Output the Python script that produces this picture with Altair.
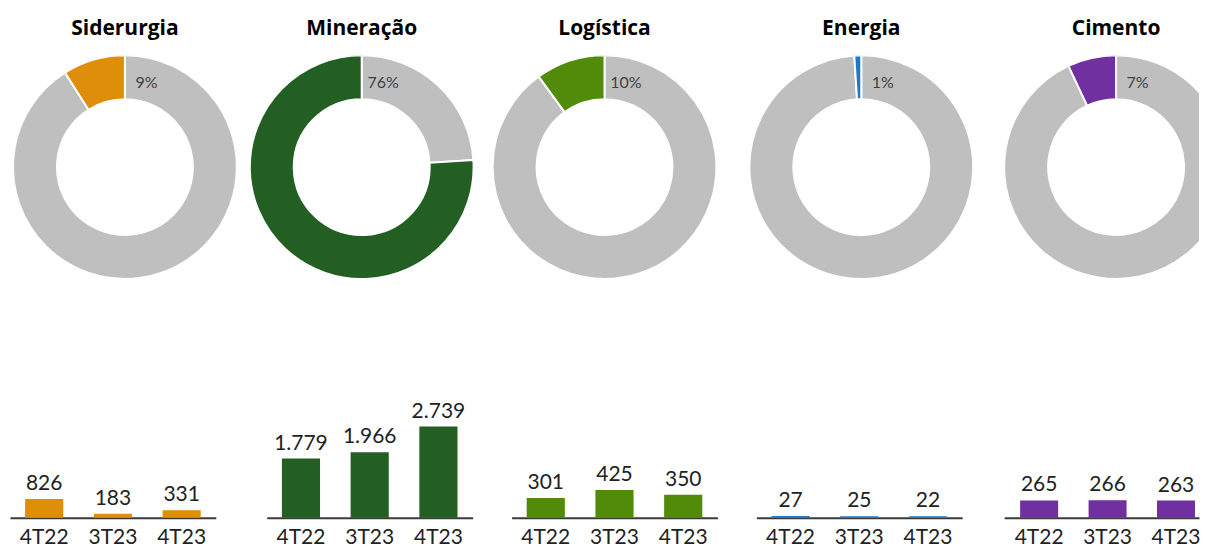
import altair as alt
import pandas as pd

sectors = ["Siderurgia", "Mineração", "Logística", "Energia", "Cimento"]
shares = [9, 76, 10, 1, 7]
colors = ["#DF8E0A", "#235F22", "#528A0A", "#1F78C8", "#7030A0"]
periods = ["4T22", "3T23", "4T23"]
siderurgia = [826, 183, 331]
mineracao = [1779, 1966, 2739]
logistica = [301, 425, 350]
energia = [27, 25, 22]
cimento = [265, 266, 263]
series = [siderurgia, mineracao, logistica, energia, cimento]
y_max = [5700, 3900, 1980, 1980, 1980]

GRAY = "#BFBFBF"
FONT = "Lato"
TITLE_FONT = "Open Sans"

donut_w = [230, 244, 242, 272, 202]
donut_shift = [0, 0, 0, 0, 18]
bar_w = [206, 206, 206, 206, 195]
bar_pad_outer = [0.22, 0.22, 0.22, 0.22, 0.146]
bar_align = [0.5, 0.5, 0.5, 0.5, 0.8]

color_scale = alt.Scale(domain=["resto"] + sectors, range=[GRAY] + colors)


def donut(i):
    df = pd.DataFrame({
        "part": ["resto", sectors[i]],
        "value": [100 - shares[i], shares[i]],
        "ord": [0, 1],
    })
    arc = alt.Chart(df).mark_arc(
        radius=112, innerRadius=68, stroke="white", strokeWidth=2,
        xOffset=donut_shift[i], clip=True,
    ).encode(
        theta=alt.Theta("value:Q", stack=True),
        order=alt.Order("ord:Q"),
        color=alt.Color("part:N", scale=color_scale, legend=None),
    )
    lbl = alt.Chart(pd.DataFrame({"t": [f"{shares[i]}%"]})).mark_text(
        radius=87, theta=0.25, font=FONT, fontSize=16, color="#404040",
        xOffset=donut_shift[i],
    ).encode(text="t:N")
    return alt.layer(arc, lbl).properties(
        width=donut_w[i], height=224,
        title=alt.TitleParams(sectors[i], fontSize=21, font=TITLE_FONT, fontWeight="bold",
                              color="black", offset=16, dx=donut_shift[i]),
    )


def bars(i):
    df = pd.DataFrame({"periodo": periods, "valor": series[i]})
    base = alt.Chart(df).transform_calculate(
        rotulo="replace(format(datum.valor, ','), ',', '.')"
    ).encode(
        x=alt.X("periodo:N", sort=periods,
                scale=alt.Scale(paddingInner=0.445, paddingOuter=bar_pad_outer[i],
                                align=bar_align[i]),
                axis=alt.Axis(title=None, labelAngle=0, ticks=False, domainColor="#3A3A3A",
                              domainWidth=2, labelFont=FONT, labelFontSize=21,
                              labelColor="#222222", labelPadding=9)),
        y=alt.Y("valor:Q", scale=alt.Scale(domain=[0, y_max[i]]), axis=None),
    )
    b = base.mark_bar(color=colors[i])
    t = base.mark_text(baseline="bottom", dy=-5, font=FONT, fontSize=21,
                       color="#222222").encode(text="rotulo:N")
    return alt.layer(b, t).properties(width=bar_w[i], height=130)


top = alt.hconcat(*[donut(i) for i in range(5)], spacing=0)
p = [bars(i) for i in range(5)]
middle = alt.hconcat(p[1], p[2], p[3], spacing=39)
bottom = alt.hconcat(alt.hconcat(p[0], middle, spacing=51), p[4], spacing=42)

chart = alt.vconcat(top, bottom, spacing=109).properties(
    padding={"left": 2, "top": 10, "right": 0, "bottom": 0}
).configure_view(stroke=None)

chart.save("out.html", embed_options={"renderer": "svg", "actions": False})
